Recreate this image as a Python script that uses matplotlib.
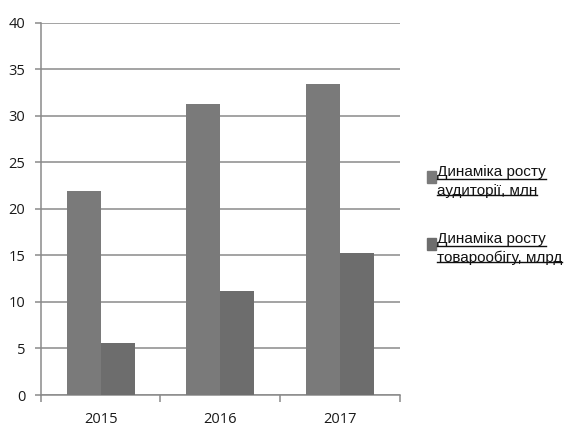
import numpy as np
import matplotlib
matplotlib.use("Agg")
import matplotlib.pyplot as plt
from matplotlib.lines import Line2D

years = ['2015', '2016', '2017']
audience = [21.9, 31.3, 33.4]
turnover = [5.6, 11.2, 15.3]
labels = ['Динаміка росту\nаудиторії, млн', 'Динаміка росту\nтоварообігу, млрд']
colors = ['#7a7a7a', '#6d6d6d']

plt.rcParams['font.family'] = ['Open Sans', 'DejaVu Sans']

fig = plt.figure(figsize=(5.66, 4.28), dpi=100)
ax = fig.add_axes([0.0719, 0.0771, 0.635, 0.870])

x = np.arange(len(years))
w = 0.283
ax.bar(x - w / 2, audience, w, color=colors[0], zorder=3)
ax.bar(x + w / 2, turnover, w, color=colors[1], zorder=3)

ax.set_xlim(-0.5, 2.5)
ax.set_ylim(0, 40)
ax.set_yticks(range(0, 41, 5))
ax.yaxis.grid(True, color='#8a8a8a', linewidth=1.1, zorder=0)
ax.set_axisbelow(True)

ax.set_xticks(x)
ax.set_xticklabels(years)
ax.set_xticks([-0.5, 0.5, 1.5, 2.5], minor=True)
ax.tick_params(axis='x', which='major', length=0, pad=12, labelsize=10.5, colors='#1a1a1a')
ax.tick_params(axis='x', which='minor', length=5, color='#8a8a8a', width=1.1)
ax.tick_params(axis='y', length=4, pad=7, labelsize=10.5, colors='#1a1a1a', color='#8a8a8a', width=1.1)

for s in ['top', 'right']:
    ax.spines[s].set_visible(False)
for s in ['left', 'bottom']:
    ax.spines[s].set_color('#8a8a8a')
    ax.spines[s].set_linewidth(1.1)

# legend drawn by hand, underlined text like the original
fam = ['Liberation Sans', 'DejaVu Sans']
leg_y = [0.586, 0.430]
texts = []
for lab, c, yy in zip(labels, colors, leg_y):
    fig.patches.append(plt.Rectangle((0.7545, yy - 0.013), 0.016, 0.028, color=c,
                                     transform=fig.transFigure, figure=fig))
    t = fig.text(0.772, yy + 0.028, lab, fontsize=11, family=fam,
                 va='top', ha='left', linespacing=1.4, color='#111111')
    texts.append(t)

fig.canvas.draw()
r = fig.canvas.get_renderer()
inv = fig.transFigure.inverted()
for t in texts:
    bb = t.get_window_extent(r)
    lines = t.get_text().split('\n')
    h = bb.height / len(lines)
    for i, ln in enumerate(lines):
        tmp = fig.text(0, 0, ln, fontsize=11, family=fam)
        lw = tmp.get_window_extent(r).width
        tmp.remove()
        ybase = bb.y1 - h * (i + 1) + h * 0.17
        p0 = inv.transform((bb.x0, ybase))
        p1 = inv.transform((bb.x0 + lw, ybase))
        fig.lines.append(Line2D([p0[0], p1[0]], [p0[1], p1[1]], color='#111111',
                                linewidth=1.0, transform=fig.transFigure))

fig.savefig('out.png', dpi=100)
